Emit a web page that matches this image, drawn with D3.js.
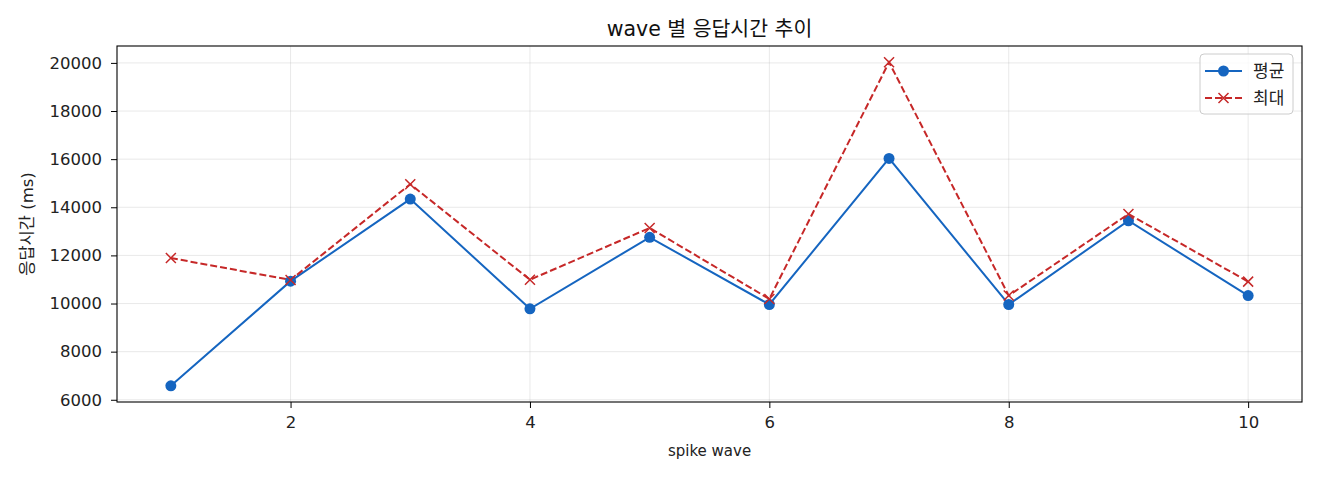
<!DOCTYPE html>
<html>
<head>
<meta charset="utf-8">
<script src="https://cdn.jsdelivr.net/npm/d3@7"></script>
<style>
  body { margin: 0; background: #fff; }
  svg { font-family: "DejaVu Sans", "Noto Sans CJK KR", sans-serif; }
</style>
</head>
<body>
<svg id="chart" width="1320" height="480"></svg>
<script>
// spike wave 번호와 응답시간 (ms)
const waves = [1, 2, 3, 4, 5, 6, 7, 8, 9, 10];
const avgMs = [6580, 10930, 14340, 9780, 12750, 9960, 16030, 9960, 13440, 10330];
const maxMs = [11890, 10980, 14960, 10990, 13140, 10190, 20030, 10330, 13720, 10910];
const xTicks = [2, 4, 6, 8, 10];
const yTicks = [6000, 8000, 10000, 12000, 14000, 16000, 18000, 20000];

const margin = { top: 46, right: 18, bottom: 78, left: 117 };
const W = 1320, H = 480;
const iw = W - margin.left - margin.right;
const ih = H - margin.top - margin.bottom;

const svg = d3.select("#chart");
const g = svg.append("g").attr("transform", `translate(${margin.left},${margin.top})`);

// matplotlib 식 5% 여백
const xpad = (d3.max(waves) - d3.min(waves)) * 0.05;
const x = d3.scaleLinear()
  .domain([d3.min(waves) - xpad, d3.max(waves) + xpad])
  .range([0, iw]);

const all = avgMs.concat(maxMs);
const ypad = (d3.max(all) - d3.min(all)) * 0.05;
const y = d3.scaleLinear()
  .domain([d3.min(all) - ypad, d3.max(all) + ypad])
  .range([ih, 0]);

// grid
g.append("g").selectAll("line").data(xTicks).join("line")
  .attr("x1", d => x(d)).attr("x2", d => x(d))
  .attr("y1", 0).attr("y2", ih)
  .attr("stroke", "#b0b0b0").attr("stroke-opacity", 0.35).attr("stroke-width", 0.8);
g.append("g").selectAll("line").data(yTicks).join("line")
  .attr("x1", 0).attr("x2", iw)
  .attr("y1", d => y(d)).attr("y2", d => y(d))
  .attr("stroke", "#b0b0b0").attr("stroke-opacity", 0.35).attr("stroke-width", 0.8);

// axes
const xAxis = g.append("g").attr("transform", `translate(0,${ih})`)
  .call(d3.axisBottom(x).tickValues(xTicks).tickSize(6).tickPadding(8).tickFormat(d3.format("d")));
const yAxis = g.append("g")
  .call(d3.axisLeft(y).tickValues(yTicks).tickSize(6).tickPadding(9).tickFormat(d3.format("d")));
[xAxis, yAxis].forEach(a => {
  a.select(".domain").remove();
  a.selectAll("text").attr("font-size", 16.5).attr("fill", "#222")
    .style("font-family", "'DejaVu Sans', sans-serif");
  a.selectAll("line").attr("stroke", "#000").attr("stroke-width", 1);
});

g.append("rect").attr("width", iw).attr("height", ih)
  .attr("fill", "none").attr("stroke", "#000").attr("stroke-width", 1.1);

// lines
const line = d3.line().x((d, i) => x(waves[i])).y(d => y(d));
const blue = "#1565c0", red = "#c62828";

g.append("path").datum(avgMs).attr("d", line)
  .attr("fill", "none").attr("stroke", blue).attr("stroke-width", 2);
g.append("path").datum(maxMs).attr("d", line)
  .attr("fill", "none").attr("stroke", red).attr("stroke-width", 2)
  .attr("stroke-dasharray", "7,3");

g.append("g").selectAll("circle").data(avgMs).join("circle")
  .attr("cx", (d, i) => x(waves[i])).attr("cy", d => y(d)).attr("r", 5.5)
  .attr("fill", blue);

g.append("g").selectAll("path").data(maxMs).join("path")
  .attr("transform", (d, i) => `translate(${x(waves[i])},${y(d)})`)
  .attr("d", "M-5,-5L5,5M-5,5L5,-5")
  .attr("fill", "none").attr("stroke", red).attr("stroke-width", 1.5);

// titles
svg.append("text").attr("x", margin.left + iw / 2).attr("y", 36)
  .attr("text-anchor", "middle").attr("font-size", 20.5).attr("fill", "#111")
  .text("wave 별 응답시간 추이");
svg.append("text").attr("x", margin.left + iw / 2).attr("y", 456)
  .attr("text-anchor", "middle").attr("font-size", 15).attr("fill", "#222")
  .text("spike wave");
svg.append("text")
  .attr("transform", `translate(33,${margin.top + ih / 2}) rotate(-90)`)
  .attr("text-anchor", "middle").attr("font-size", 16.5).attr("fill", "#222")
  .text("응답시간 (ms)");

// legend
const lg = svg.append("g").attr("transform", "translate(1200,54)");
lg.append("rect").attr("width", 93).attr("height", 60).attr("rx", 4)
  .attr("fill", "#fff").attr("fill-opacity", 0.8)
  .attr("stroke", "#ccc").attr("stroke-width", 1);
const items = [
  { name: "평균", color: blue, dash: null, mark: "circle" },
  { name: "최대", color: red, dash: "7,3", mark: "x" }
];
items.forEach((it, i) => {
  const yy = 17 + i * 27;
  lg.append("line").attr("x1", 5).attr("x2", 42).attr("y1", yy).attr("y2", yy)
    .attr("stroke", it.color).attr("stroke-width", 2)
    .attr("stroke-dasharray", it.dash);
  if (it.mark === "circle") {
    lg.append("circle").attr("cx", 23.5).attr("cy", yy).attr("r", 5.5).attr("fill", it.color);
  } else {
    lg.append("path").attr("transform", `translate(23.5,${yy})`)
      .attr("d", "M-5,-5L5,5M-5,5L5,-5")
      .attr("fill", "none").attr("stroke", it.color).attr("stroke-width", 1.5);
  }
  lg.append("text").attr("x", 53).attr("y", yy + 6).attr("font-size", 17)
    .attr("fill", "#222").text(it.name);
});
</script>
</body>
</html>
